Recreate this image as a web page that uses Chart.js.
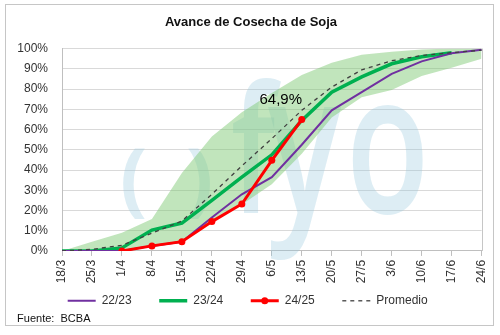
<!DOCTYPE html>
<html><head><meta charset="utf-8">
<script src="https://cdn.jsdelivr.net/npm/chart.js@4/dist/chart.umd.min.js"></script>
<style>html,body{margin:0;padding:0;background:#fff}#wrap{position:relative;width:500px;height:335px}</style>
</head><body><div id="wrap"><canvas id="c" width="500" height="335"></canvas></div>
<script>
const labels = ['18/3','25/3','1/4','8/4','15/4','22/4','29/4','6/5','13/5','20/5','27/5','3/6','10/6','17/6','24/6'];
const s2223 = [0,0,0,2.5,4.5,16.5,28,36.5,52.5,69.5,78.5,87.5,93.7,97.7,99.4];
const s2324 = [0,0,1.5,10.3,13.8,25,36.5,47.5,64.5,78.5,86,92.5,96,98,null];
const s2425 = [null,null,0,2.5,4.6,14.5,23.2,44.8,64.9,null,null,null,null,null,null];
const promedio = [0,0.8,2.8,8.8,14.8,28,42,55.5,69.5,81,89.5,94,96.6,98,99.2];
const rangoMax = [0,4.5,9,15.8,38.5,56.5,68.5,78,87,93,97,98.5,99.5,100,100];
const rangoMin = [0,0,0,2.5,4.5,14.5,23,33,48,66,76,79.5,86.5,90.5,95];
const yTicks = [0,10,20,30,40,50,60,70,80,90,100];
const title = 'Avance de Cosecha de Soja';
const fuente = '  Fuente:  BCBA';
const lastLabel = '64,9%';

const FONT = '"Liberation Sans", Arial, sans-serif';

const framePlugin = {
  id: 'frame',
  beforeDraw(chart) {
    const ctx = chart.ctx;
    ctx.save();
    ctx.fillStyle = '#fff';
    ctx.fillRect(0, 0, chart.width, chart.height);
    ctx.strokeStyle = '#c6c6c6';
    ctx.lineWidth = 1;
    ctx.strokeRect(5.5, 4.5, 488, 321);
    ctx.restore();
  },
  beforeDatasetsDraw(chart) {
    const ctx = chart.ctx;
    ctx.save();
    ctx.fillStyle = 'rgba(150,200,220,0.32)';
    ctx.textBaseline = 'alphabetic';
    ctx.font = 'bold 80px "Open Sans", sans-serif';
    ctx.fillText('(', 120, 206);
    ctx.fillText(')', 186, 206);
    ctx.scale(0.7, 1);
    ctx.font = '600 175px "Open Sans", sans-serif';
    ctx.fillText('f', 231 / 0.7, 213);
    ctx.font = '600 195px "Open Sans", sans-serif';
    ctx.fillText('y', 268 / 0.7, 213);
    ctx.fillText('o', 346 / 0.7, 213);
    ctx.restore();
  },
  afterDatasetsDraw(chart) {
    const ctx = chart.ctx;
    const a = chart.chartArea;
    ctx.save();
    ctx.strokeStyle = '#c6c6c6';
    ctx.lineWidth = 1;
    ctx.beginPath();
    ctx.moveTo(Math.round(a.right) + 0.5, a.top);
    ctx.lineTo(Math.round(a.right) + 0.5, a.bottom);
    ctx.stroke();
    const meta = chart.getDatasetMeta(2);
    const pt = meta.data[8];
    ctx.fillStyle = '#000';
    ctx.font = '15px ' + FONT;
    ctx.textAlign = 'center';
    ctx.textBaseline = 'middle';
    ctx.fillText(lastLabel, pt.x - 21, pt.y - 20);
    ctx.restore();
  },
  afterDraw(chart) {
    const boxes = chart.legend.legendHitBoxes;
    if (!boxes || !boxes[2]) return;
    const b = boxes[2];
    const ctx = chart.ctx;
    ctx.save();
    ctx.fillStyle = '#ff0000';
    ctx.beginPath();
    ctx.arc(b.left + 14, b.top + b.height / 2, 3.5, 0, Math.PI * 2);
    ctx.fill();
    ctx.restore();
  }
};

const legendLabels = (chart) => chart.data.datasets.slice(0, 4).map((ds, i) => ({
  text: i < 3 ? ds.label + '      ' : ds.label + '  ',
  strokeStyle: ds.borderColor,
  fillStyle: ds.borderColor,
  lineWidth: ds.borderWidth,
  lineDash: ds.borderDash || [],
  pointStyle: 'line',
  hidden: false,
  datasetIndex: i,
  fontColor: '#333'
}));

new Chart(document.getElementById('c'), {
  type: 'line',
  data: {
    labels: labels,
    datasets: [
      { label: '22/23', data: s2223, borderColor: '#7030a0', backgroundColor: '#7030a0', borderWidth: 2, pointRadius: 0, order: 3 },
      { label: '23/24', data: s2324, borderColor: '#00b050', backgroundColor: '#00b050', borderWidth: 3.5, pointRadius: 0, order: 4 },
      { label: '24/25', data: s2425, borderColor: '#ff0000', backgroundColor: '#ff0000', borderWidth: 3, pointRadius: 3.5, pointBackgroundColor: '#ff0000', pointBorderWidth: 0, order: 1 },
      { label: 'Promedio', data: promedio, borderColor: '#404040', backgroundColor: '#404040', borderWidth: 1.3, borderDash: [4, 4], pointRadius: 0, order: 2 },
      { label: 'max', data: rangoMax, borderWidth: 0, borderColor: 'rgba(0,0,0,0)', pointRadius: 0, fill: '+1', backgroundColor: 'rgba(125,200,115,0.48)', order: 10 },
      { label: 'min', data: rangoMin, borderWidth: 0, borderColor: 'rgba(0,0,0,0)', pointRadius: 0, fill: false, order: 11 }
    ]
  },
  options: {
    responsive: false,
    animation: false,
    devicePixelRatio: 1,
    layout: { padding: { left: 11, right: 9, top: 8, bottom: 9 } },
    plugins: {
      title: { display: true, text: title, color: '#111', font: { family: FONT, size: 13, weight: 'bold' }, padding: { top: 7, bottom: 18 } },
      subtitle: { display: true, text: fuente, position: 'bottom', align: 'start', color: '#111', font: { family: FONT, size: 11 }, padding: { top: -4, bottom: 0 } },
      legend: {
        position: 'bottom',
        labels: {
          generateLabels: legendLabels,
          usePointStyle: true,
          pointStyleWidth: 28,
          boxWidth: 28,
          boxHeight: 8,
          padding: 7.5,
          color: '#333',
          font: { family: FONT, size: 12 }
        }
      },
      tooltip: { enabled: false }
    },
    scales: {
      x: {
        offset: false,
        grid: { drawOnChartArea: false, drawTicks: true, tickLength: 5, color: '#bfbfbf' },
        border: { color: '#bfbfbf' },
        ticks: { minRotation: 90, maxRotation: 90, autoSkip: false, color: '#333', font: { family: FONT, size: 12 }, padding: 4 }
      },
      y: {
        min: 0, max: 100,
        afterBuildTicks: (s) => { s.ticks = yTicks.map(v => ({ value: v })); },
        afterFit: (s) => { s.width = 51; },
        grid: { color: '#d9d9d9', drawTicks: false },
        border: { color: '#bfbfbf' },
        ticks: { callback: (v) => v + '%', color: '#333', font: { family: FONT, size: 12 }, padding: 14 }
      }
    }
  },
  plugins: [framePlugin]
});
</script></body></html>
